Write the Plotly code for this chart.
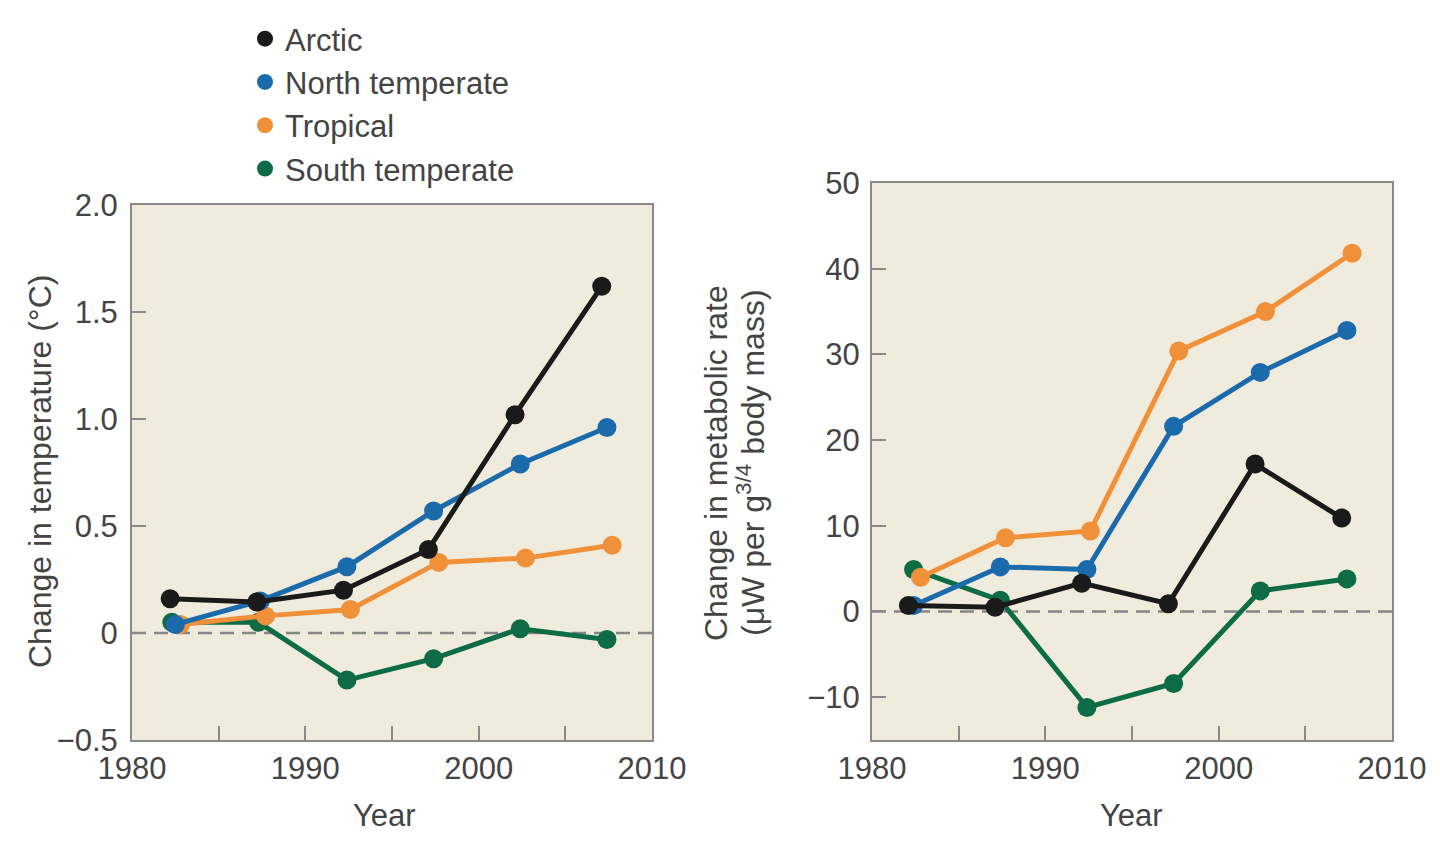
import plotly.graph_objects as go

series_names = ["Arctic", "North temperate", "Tropical", "South temperate"]
series_colors = ["#1a1a1a", "#1b6aab", "#f0913a", "#0d6b45"]

# Left panel: change in temperature (°C)
temp_years = {
    "Arctic":          [1982.2, 1987.2, 1992.2, 1997.1, 2002.1, 2007.1],
    "North temperate": [1982.5, 1987.4, 1992.4, 1997.4, 2002.4, 2007.4],
    "Tropical":        [1982.8, 1987.7, 1992.6, 1997.7, 2002.7, 2007.7],
    "South temperate": [1982.3, 1987.3, 1992.4, 1997.4, 2002.4, 2007.4],
}
temp_values = {
    "Arctic":          [0.16, 0.145, 0.20, 0.39, 1.02, 1.62],
    "North temperate": [0.04, 0.15, 0.31, 0.57, 0.79, 0.96],
    "Tropical":        [0.04, 0.08, 0.11, 0.33, 0.35, 0.41],
    "South temperate": [0.05, 0.05, -0.22, -0.12, 0.02, -0.03],
}

# Right panel: change in metabolic rate
met_years = {
    "Arctic":          [1982.1, 1987.1, 1992.1, 1997.1, 2002.1, 2007.1],
    "North temperate": [1982.4, 1987.4, 1992.4, 1997.4, 2002.4, 2007.4],
    "Tropical":        [1982.8, 1987.7, 1992.6, 1997.7, 2002.7, 2007.7],
    "South temperate": [1982.4, 1987.4, 1992.4, 1997.4, 2002.4, 2007.4],
}
met_values = {
    "Arctic":          [0.7, 0.5, 3.3, 0.9, 17.2, 10.9],
    "North temperate": [0.7, 5.2, 4.9, 21.6, 27.9, 32.8],
    "Tropical":        [4.0, 8.6, 9.4, 30.4, 35.0, 41.8],
    "South temperate": [4.9, 1.3, -11.2, -8.4, 2.4, 3.8],
}

x_tickvals = [1980, 1990, 2000, 2010]
x_ticktext = ["1980", "1990", "2000", "2010"]
x_minor_tickvals = [1985, 1995, 2005]
temp_tickvals = [-0.5, 0, 0.5, 1.0, 1.5, 2.0]
temp_ticktext = ["\u22120.5", "0", "0.5", "1.0", "1.5", "2.0"]
met_tickvals = [-10, 0, 10, 20, 30, 40, 50]
met_ticktext = ["\u221210", "0", "10", "20", "30", "40", "50"]

FONT = "Liberation Sans, Arial, sans-serif"
TXT = "#444444"
BG = "#efebdd"
FRAME = "#8a8a8a"
OFF = 8  # page body margin


def px(x):
    return (x - OFF) / 1440


def py(y):
    return 1 - (y - OFF) / 843


fig = go.Figure()

# zero dashed lines
for xa, ya in (("x", "y"), ("x2", "y2")):
    fig.add_trace(go.Scatter(x=[1980, 2010], y=[0, 0], mode="lines", xaxis=xa, yaxis=ya,
                             line=dict(color="#858585", width=2.5, dash="14px,8px"),
                             showlegend=False, hoverinfo="skip"))

draw_order = ["South temperate", "Tropical", "North temperate", "Arctic"]
cmap = dict(zip(series_names, series_colors))
for name in draw_order:
    c = cmap[name]
    fig.add_trace(go.Scatter(x=temp_years[name], y=temp_values[name], mode="lines+markers",
                             xaxis="x", yaxis="y", line=dict(color=c, width=5),
                             marker=dict(color=c, size=19), showlegend=False, name=name))
    fig.add_trace(go.Scatter(x=met_years[name], y=met_values[name], mode="lines+markers",
                             xaxis="x2", yaxis="y2", line=dict(color=c, width=5),
                             marker=dict(color=c, size=19), showlegend=False, name=name))

# legend-only marker entries
for name, c in zip(series_names, series_colors):
    fig.add_trace(go.Scatter(x=[None], y=[None], mode="markers", name=name,
                             marker=dict(color=c, size=18), xaxis="x", yaxis="y"))

axis_common = dict(showline=True, mirror=True, linecolor=FRAME, linewidth=2,
                   ticks="inside", ticklen=14, tickwidth=2, tickcolor=FRAME,
                   showgrid=False, zeroline=False, automargin=False,
                   tickfont=dict(family=FONT, size=31, color=TXT))
x_minor = dict(tickvals=x_minor_tickvals, ticks="inside", ticklen=14, tickwidth=2,
               tickcolor=FRAME, showgrid=False)

fig.update_layout(
    width=1440, height=843,
    margin=dict(l=0, r=0, t=0, b=0, autoexpand=False),
    paper_bgcolor="white",
    plot_bgcolor=BG,
    font=dict(family=FONT, color=TXT, size=30),
    xaxis=dict(domain=[px(132), px(652)], range=[1980, 2010], tickvals=x_tickvals,
               ticktext=x_ticktext, anchor="y", minor=x_minor, **axis_common),
    yaxis=dict(domain=[py(740), py(205)], range=[-0.5, 2.0], tickvals=temp_tickvals,
               ticktext=temp_ticktext, anchor="x", ticklabelstandoff=6, **axis_common),
    xaxis2=dict(domain=[px(872), px(1392)], range=[1980, 2010], tickvals=x_tickvals,
                ticktext=x_ticktext, anchor="y2", minor=x_minor, **axis_common),
    yaxis2=dict(domain=[py(740), py(183)], range=[-15, 50], tickvals=met_tickvals,
                ticktext=met_ticktext, anchor="x2", ticklabelstandoff=4, **axis_common),
    legend=dict(x=px(245), y=py(12), xanchor="left", yanchor="top",
                font=dict(family=FONT, size=31, color=TXT), bgcolor="rgba(0,0,0,0)",
                itemwidth=30, tracegroupgap=0),
    annotations=[
        dict(text="Change in temperature (°C)", x=px(40), y=py(472), xref="paper", yref="paper",
             xanchor="center", yanchor="middle",
             textangle=-90, showarrow=False, font=dict(family=FONT, size=32, color=TXT)),
        dict(text="Change in metabolic rate", x=px(716), y=py(463),
             xref="paper", yref="paper", xanchor="center", yanchor="middle",
             textangle=-90, showarrow=False, font=dict(family=FONT, size=32, color=TXT)),
        dict(text="(μW per g<sup>3/4</sup> body mass)", x=px(751), y=py(463),
             xref="paper", yref="paper", xanchor="center", yanchor="middle",
             textangle=-90, showarrow=False, font=dict(family=FONT, size=32, color=TXT)),
        dict(text="Year", x=px(384), y=py(815), xref="paper", yref="paper", showarrow=False,
             xanchor="center", yanchor="middle", font=dict(family=FONT, size=31, color=TXT)),
        dict(text="Year", x=px(1131), y=py(815), xref="paper", yref="paper", showarrow=False,
             xanchor="center", yanchor="middle", font=dict(family=FONT, size=31, color=TXT)),
    ],
)

fig.write_html("out.html")
